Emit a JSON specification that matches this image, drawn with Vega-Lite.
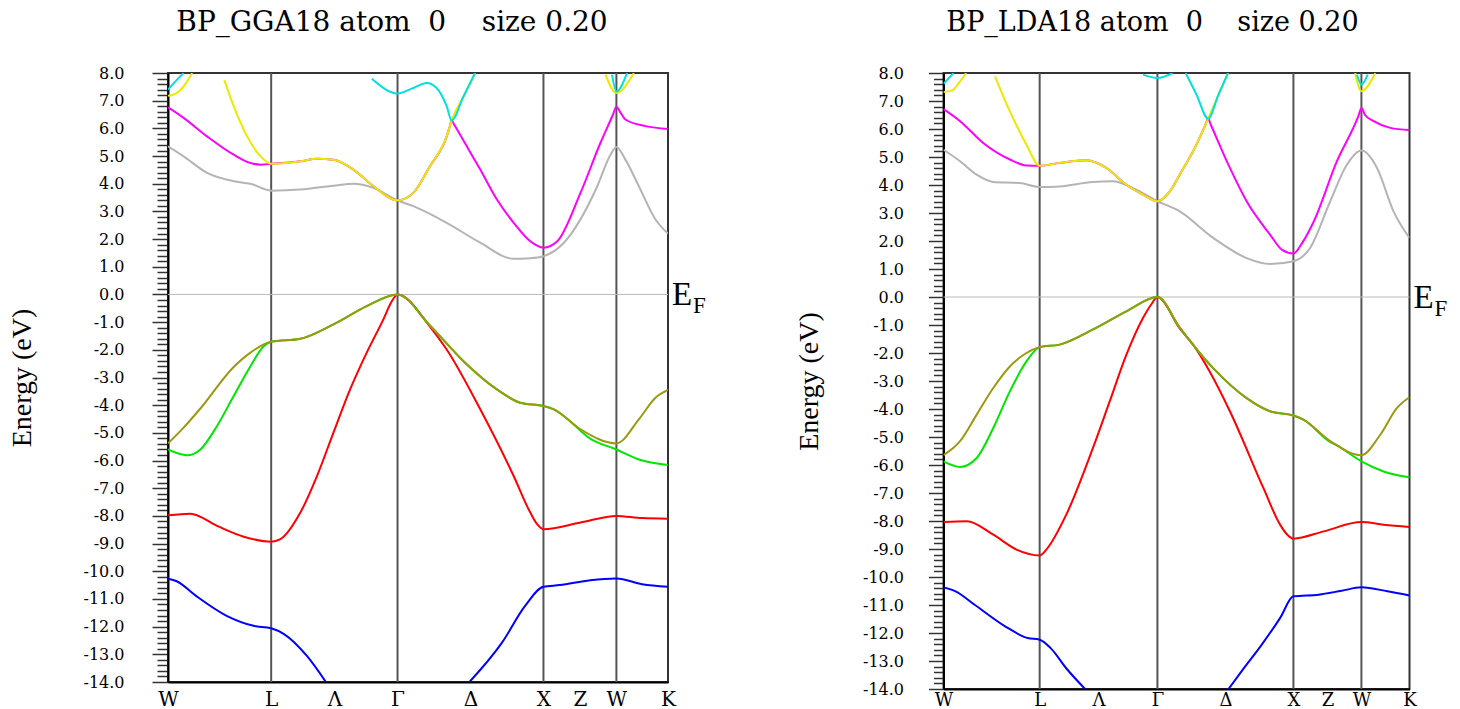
{
  "$schema": "https://vega.github.io/schema/vega-lite/v6.json",
  "autosize": {"type": "pad"},
  "padding": {"left": 7, "top": 8, "right": 5, "bottom": 0},
  "background": "white",
  "config": {
    "view": {"stroke": "#333", "strokeWidth": 2},
    "font": "DejaVu Serif"
  },
  "datasets": {
    "gga": [
      {"b":"1","k":0,"e":-10.27},{"b":"1","k":0.06,"e":-10.36},{"b":"1","k":0.192,"e":-10.89},{"b":"1","k":0.402,"e":-11.61},{"b":"1","k":0.586,"e":-11.97},{"b":"1","k":0.7071,"e":-12.06},{"b":"1","k":0.795,"e":-12.27},{"b":"1","k":0.952,"e":-13.06},{"b":"1","k":1.082,"e":-14.0},{"b":"1","k":1.5731,"e":null},{"b":"1","k":2.066,"e":-14.0},{"b":"1","k":2.289,"e":-12.58},{"b":"1","k":2.446,"e":-11.26},{"b":"1","k":2.5731,"e":-10.56},{"b":"1","k":2.684,"e":-10.5},{"b":"1","k":2.894,"e":-10.32},{"b":"1","k":3.0731,"e":-10.26},{"b":"1","k":3.249,"e":-10.47},{"b":"1","k":3.4267,"e":-10.56},
      {"b":"2","k":0,"e":-7.98},{"b":"2","k":0.153,"e":-7.92},{"b":"2","k":0.336,"e":-8.36},{"b":"2","k":0.519,"e":-8.75},{"b":"2","k":0.7071,"e":-8.93},{"b":"2","k":0.77,"e":-8.84},{"b":"2","k":0.907,"e":-7.88},{"b":"2","k":1.021,"e":-6.56},{"b":"2","k":1.134,"e":-4.99},{"b":"2","k":1.248,"e":-3.43},{"b":"2","k":1.362,"e":-2.1},{"b":"2","k":1.476,"e":-0.9},{"b":"2","k":1.53,"e":-0.28},{"b":"2","k":1.5731,"e":0},{"b":"2","k":1.795,"e":-1.16},{"b":"2","k":1.91,"e":-1.99},{"b":"2","k":2.14,"e":-4.15},{"b":"2","k":2.369,"e":-6.56},{"b":"2","k":2.483,"e":-7.88},{"b":"2","k":2.53,"e":-8.3},{"b":"2","k":2.5731,"e":-8.48},{"b":"2","k":2.827,"e":-8.24},{"b":"2","k":3.0731,"e":-8.0},{"b":"2","k":3.25,"e":-8.08},{"b":"2","k":3.4267,"e":-8.1},
      {"b":"3","k":0,"e":-5.6},{"b":"3","k":0.13,"e":-5.81},{"b":"3","k":0.222,"e":-5.6},{"b":"3","k":0.336,"e":-4.75},{"b":"3","k":0.45,"e":-3.67},{"b":"3","k":0.565,"e":-2.59},{"b":"3","k":0.656,"e":-1.87},{"b":"3","k":0.7071,"e":-1.71},{"b":"3","k":0.907,"e":-1.6},{"b":"3","k":1.134,"e":-1.08},{"b":"3","k":1.362,"e":-0.42},{"b":"3","k":1.5731,"e":0},{"b":"3","k":1.795,"e":-1.12},{"b":"3","k":2.025,"e":-2.41},{"b":"3","k":2.254,"e":-3.43},{"b":"3","k":2.414,"e":-3.91},{"b":"3","k":2.5731,"e":-4.03},{"b":"3","k":2.644,"e":-4.15},{"b":"3","k":2.827,"e":-4.92},{"b":"3","k":2.87,"e":-5.12},{"b":"3","k":3.0731,"e":-5.6},{"b":"3","k":3.227,"e":-5.96},{"b":"3","k":3.4267,"e":-6.16},
      {"b":"4","k":0,"e":-5.38},{"b":"4","k":0.107,"e":-4.81},{"b":"4","k":0.222,"e":-4.12},{"b":"4","k":0.45,"e":-2.62},{"b":"4","k":0.565,"e":-2.1},{"b":"4","k":0.7071,"e":-1.71},{"b":"4","k":0.907,"e":-1.6},{"b":"4","k":1.134,"e":-1.08},{"b":"4","k":1.362,"e":-0.42},{"b":"4","k":1.5731,"e":0},{"b":"4","k":1.795,"e":-1.12},{"b":"4","k":2.025,"e":-2.41},{"b":"4","k":2.254,"e":-3.43},{"b":"4","k":2.414,"e":-3.91},{"b":"4","k":2.5731,"e":-4.03},{"b":"4","k":2.644,"e":-4.15},{"b":"4","k":2.827,"e":-4.87},{"b":"4","k":3.0731,"e":-5.38},{"b":"4","k":3.227,"e":-4.51},{"b":"4","k":3.341,"e":-3.73},{"b":"4","k":3.4267,"e":-3.45},
      {"b":"5","k":0,"e":5.35},{"b":"5","k":0.107,"e":4.99},{"b":"5","k":0.268,"e":4.39},{"b":"5","k":0.45,"e":4.09},{"b":"5","k":0.565,"e":4.0},{"b":"5","k":0.7071,"e":3.75},{"b":"5","k":0.907,"e":3.79},{"b":"5","k":1.134,"e":3.93},{"b":"5","k":1.271,"e":4.0},{"b":"5","k":1.408,"e":3.85},{"b":"5","k":1.5731,"e":3.4},{"b":"5","k":1.681,"e":3.19},{"b":"5","k":1.91,"e":2.59},{"b":"5","k":2.14,"e":1.87},{"b":"5","k":2.369,"e":1.29},{"b":"5","k":2.483,"e":1.31},{"b":"5","k":2.5731,"e":1.38},{"b":"5","k":2.713,"e":1.87},{"b":"5","k":2.942,"e":3.91},{"b":"5","k":3.03,"e":5.02},{"b":"5","k":3.0731,"e":5.33},{"b":"5","k":3.135,"e":4.87},{"b":"5","k":3.227,"e":3.91},{"b":"5","k":3.341,"e":2.71},{"b":"5","k":3.4267,"e":2.2},
      {"b":"6","k":0,"e":6.76},{"b":"6","k":0.107,"e":6.38},{"b":"6","k":0.268,"e":5.71},{"b":"6","k":0.45,"e":5.05},{"b":"6","k":0.565,"e":4.75},{"b":"6","k":0.634,"e":4.69},{"b":"6","k":0.7071,"e":4.72},{"b":"6","k":0.907,"e":4.81},{"b":"6","k":1.021,"e":4.9},{"b":"6","k":1.134,"e":4.87},{"b":"6","k":1.271,"e":4.51},{"b":"6","k":1.408,"e":3.91},{"b":"6","k":1.5731,"e":3.4},{"b":"6","k":1.681,"e":3.67},{"b":"6","k":1.795,"e":4.63},{"b":"6","k":1.91,"e":5.71},{"b":"6","k":1.93,"e":6.05},{"b":"6","k":1.944,"e":6.29},{"b":"6","k":1.96,"e":6.15},{"b":"6","k":2.048,"e":5.35},{"b":"6","k":2.14,"e":4.51},{"b":"6","k":2.254,"e":3.43},{"b":"6","k":2.369,"e":2.59},{"b":"6","k":2.483,"e":1.92},{"b":"6","k":2.5731,"e":1.69},{"b":"6","k":2.668,"e":1.92},{"b":"6","k":2.827,"e":3.67},{"b":"6","k":2.964,"e":5.48},{"b":"6","k":3.05,"e":6.5},{"b":"6","k":3.0731,"e":6.78},{"b":"6","k":3.1,"e":6.58},{"b":"6","k":3.135,"e":6.32},{"b":"6","k":3.273,"e":6.08},{"b":"6","k":3.4267,"e":5.98},
      {"b":"7","k":0,"e":7.18},{"b":"7","k":0.038,"e":7.22},{"b":"7","k":0.107,"e":7.52},{"b":"7","k":0.165,"e":8.0},{"b":"7","k":0.25,"e":null},{"b":"7","k":0.386,"e":7.74},{"b":"7","k":0.45,"e":6.8},{"b":"7","k":0.542,"e":5.71},{"b":"7","k":0.634,"e":4.99},{"b":"7","k":0.7071,"e":4.72},{"b":"7","k":0.907,"e":4.81},{"b":"7","k":1.021,"e":4.9},{"b":"7","k":1.134,"e":4.87},{"b":"7","k":1.271,"e":4.51},{"b":"7","k":1.408,"e":3.91},{"b":"7","k":1.5731,"e":3.4},{"b":"7","k":1.681,"e":3.67},{"b":"7","k":1.795,"e":4.63},{"b":"7","k":1.91,"e":5.71},{"b":"7","k":1.944,"e":6.29},{"b":"7","k":2.025,"e":7.15},{"b":"7","k":2.105,"e":8.0},{"b":"7","k":2.5,"e":null},{"b":"7","k":2.998,"e":7.94},{"b":"7","k":3.0731,"e":7.28},{"b":"7","k":3.192,"e":8.0},{"b":"7","k":3.3,"e":null},
      {"b":"8","k":0,"e":7.4},{"b":"8","k":0.062,"e":7.76},{"b":"8","k":0.107,"e":8.0},{"b":"8","k":0.3,"e":null},{"b":"8","k":1.397,"e":7.79},{"b":"8","k":1.5731,"e":7.26},{"b":"8","k":1.681,"e":7.46},{"b":"8","k":1.773,"e":7.64},{"b":"8","k":1.841,"e":7.46},{"b":"8","k":1.91,"e":6.8},{"b":"8","k":1.944,"e":6.29},{"b":"8","k":2.025,"e":7.15},{"b":"8","k":2.105,"e":8.0},{"b":"8","k":2.5,"e":null},{"b":"8","k":3.043,"e":7.94},{"b":"8","k":3.0731,"e":7.33},{"b":"8","k":3.146,"e":8.0},{"b":"8","k":3.3,"e":null}
    ],
    "lda": [
      {"b":"1","k":0,"e":-10.37},{"b":"1","k":0.089,"e":-10.51},{"b":"1","k":0.229,"e":-10.99},{"b":"1","k":0.453,"e":-11.76},{"b":"1","k":0.619,"e":-12.18},{"b":"1","k":0.7071,"e":-12.24},{"b":"1","k":0.788,"e":-12.54},{"b":"1","k":0.901,"e":-13.25},{"b":"1","k":1.041,"e":-14.0},{"b":"1","k":1.5731,"e":null},{"b":"1","k":2.096,"e":-14.0},{"b":"1","k":2.194,"e":-13.35},{"b":"1","k":2.335,"e":-12.45},{"b":"1","k":2.477,"e":-11.45},{"b":"1","k":2.5731,"e":-10.69},{"b":"1","k":2.759,"e":-10.63},{"b":"1","k":2.928,"e":-10.49},{"b":"1","k":3.0731,"e":-10.37},{"b":"1","k":3.264,"e":-10.51},{"b":"1","k":3.4267,"e":-10.66},
      {"b":"2","k":0,"e":-8.04},{"b":"2","k":0.171,"e":-8.01},{"b":"2","k":0.366,"e":-8.49},{"b":"2","k":0.537,"e":-9.02},{"b":"2","k":0.7071,"e":-9.23},{"b":"2","k":0.756,"e":-9.02},{"b":"2","k":0.903,"e":-7.77},{"b":"2","k":1.099,"e":-5.39},{"b":"2","k":1.222,"e":-3.73},{"b":"2","k":1.345,"e":-2.06},{"b":"2","k":1.467,"e":-0.75},{"b":"2","k":1.53,"e":-0.25},{"b":"2","k":1.5731,"e":0},{"b":"2","k":1.737,"e":-1.12},{"b":"2","k":1.85,"e":-1.8},{"b":"2","k":1.95,"e":-2.6},{"b":"2","k":2.106,"e":-4.08},{"b":"2","k":2.352,"e":-6.82},{"b":"2","k":2.475,"e":-8.13},{"b":"2","k":2.53,"e":-8.5},{"b":"2","k":2.5731,"e":-8.63},{"b":"2","k":2.795,"e":-8.37},{"b":"2","k":3.0731,"e":-8.04},{"b":"2","k":3.236,"e":-8.13},{"b":"2","k":3.4267,"e":-8.21},
      {"b":"3","k":0,"e":-5.87},{"b":"3","k":0.122,"e":-6.07},{"b":"3","k":0.244,"e":-5.75},{"b":"3","k":0.366,"e":-4.68},{"b":"3","k":0.488,"e":-3.37},{"b":"3","k":0.61,"e":-2.3},{"b":"3","k":0.7071,"e":-1.79},{"b":"3","k":0.854,"e":-1.7},{"b":"3","k":1.099,"e":-1.16},{"b":"3","k":1.345,"e":-0.51},{"b":"3","k":1.5731,"e":0},{"b":"3","k":1.737,"e":-1.09},{"b":"3","k":1.983,"e":-2.54},{"b":"3","k":2.229,"e":-3.61},{"b":"3","k":2.401,"e":-4.08},{"b":"3","k":2.5731,"e":-4.23},{"b":"3","k":2.647,"e":-4.38},{"b":"3","k":2.844,"e":-5.18},{"b":"3","k":2.893,"e":-5.3},{"b":"3","k":3.0731,"e":-5.87},{"b":"3","k":3.236,"e":-6.23},{"b":"3","k":3.4267,"e":-6.44},
      {"b":"4","k":0,"e":-5.65},{"b":"4","k":0.122,"e":-5.15},{"b":"4","k":0.244,"e":-4.2},{"b":"4","k":0.366,"e":-3.25},{"b":"4","k":0.488,"e":-2.48},{"b":"4","k":0.61,"e":-2.0},{"b":"4","k":0.7071,"e":-1.79},{"b":"4","k":0.854,"e":-1.7},{"b":"4","k":1.099,"e":-1.16},{"b":"4","k":1.345,"e":-0.51},{"b":"4","k":1.5731,"e":0},{"b":"4","k":1.737,"e":-1.09},{"b":"4","k":1.983,"e":-2.54},{"b":"4","k":2.229,"e":-3.61},{"b":"4","k":2.401,"e":-4.08},{"b":"4","k":2.5731,"e":-4.23},{"b":"4","k":2.647,"e":-4.38},{"b":"4","k":2.844,"e":-5.15},{"b":"4","k":3.0731,"e":-5.65},{"b":"4","k":3.213,"e":-4.91},{"b":"4","k":3.335,"e":-3.96},{"b":"4","k":3.4267,"e":-3.58},
      {"b":"5","k":0,"e":5.26},{"b":"5","k":0.122,"e":4.85},{"b":"5","k":0.244,"e":4.37},{"b":"5","k":0.366,"e":4.11},{"b":"5","k":0.561,"e":4.07},{"b":"5","k":0.7071,"e":3.93},{"b":"5","k":0.854,"e":3.95},{"b":"5","k":1.099,"e":4.11},{"b":"5","k":1.246,"e":4.13},{"b":"5","k":1.393,"e":3.89},{"b":"5","k":1.5731,"e":3.42},{"b":"5","k":1.737,"e":3.06},{"b":"5","k":1.983,"e":2.11},{"b":"5","k":2.229,"e":1.39},{"b":"5","k":2.401,"e":1.18},{"b":"5","k":2.5731,"e":1.28},{"b":"5","k":2.696,"e":1.75},{"b":"5","k":2.844,"e":3.42},{"b":"5","k":2.967,"e":4.73},{"b":"5","k":3.0731,"e":5.23},{"b":"5","k":3.188,"e":4.61},{"b":"5","k":3.309,"e":3.06},{"b":"5","k":3.4267,"e":2.11},
      {"b":"6","k":0,"e":6.71},{"b":"6","k":0.122,"e":6.28},{"b":"6","k":0.292,"e":5.5},{"b":"6","k":0.488,"e":4.91},{"b":"6","k":0.61,"e":4.7},{"b":"6","k":0.7071,"e":4.69},{"b":"6","k":0.854,"e":4.79},{"b":"6","k":1.05,"e":4.88},{"b":"6","k":1.197,"e":4.61},{"b":"6","k":1.345,"e":4.01},{"b":"6","k":1.467,"e":3.66},{"b":"6","k":1.5731,"e":3.42},{"b":"6","k":1.664,"e":3.77},{"b":"6","k":1.737,"e":4.37},{"b":"6","k":1.86,"e":5.44},{"b":"6","k":1.925,"e":6.14},{"b":"6","k":1.946,"e":6.37},{"b":"6","k":1.965,"e":6.16},{"b":"6","k":2.106,"e":4.61},{"b":"6","k":2.229,"e":3.42},{"b":"6","k":2.401,"e":2.23},{"b":"6","k":2.49,"e":1.68},{"b":"6","k":2.5731,"e":1.55},{"b":"6","k":2.64,"e":1.95},{"b":"6","k":2.721,"e":2.68},{"b":"6","k":2.893,"e":4.85},{"b":"6","k":3.05,"e":6.45},{"b":"6","k":3.0731,"e":6.75},{"b":"6","k":3.1,"e":6.5},{"b":"6","k":3.163,"e":6.28},{"b":"6","k":3.285,"e":6.04},{"b":"6","k":3.4267,"e":5.96},
      {"b":"7","k":0,"e":7.32},{"b":"7","k":0.061,"e":7.37},{"b":"7","k":0.122,"e":7.7},{"b":"7","k":0.166,"e":8.0},{"b":"7","k":0.27,"e":null},{"b":"7","k":0.378,"e":7.88},{"b":"7","k":0.488,"e":6.63},{"b":"7","k":0.61,"e":5.44},{"b":"7","k":0.7071,"e":4.69},{"b":"7","k":0.854,"e":4.79},{"b":"7","k":1.05,"e":4.88},{"b":"7","k":1.197,"e":4.61},{"b":"7","k":1.345,"e":4.01},{"b":"7","k":1.467,"e":3.66},{"b":"7","k":1.5731,"e":3.42},{"b":"7","k":1.664,"e":3.77},{"b":"7","k":1.737,"e":4.37},{"b":"7","k":1.86,"e":5.44},{"b":"7","k":1.925,"e":6.14},{"b":"7","k":1.946,"e":6.37},{"b":"7","k":2.02,"e":7.2},{"b":"7","k":2.092,"e":8.0},{"b":"7","k":2.5,"e":null},{"b":"7","k":3.027,"e":8.0},{"b":"7","k":3.0731,"e":7.35},{"b":"7","k":3.175,"e":8.0},{"b":"7","k":3.3,"e":null},
      {"b":"8","k":0,"e":7.61},{"b":"8","k":0.073,"e":8.0},{"b":"8","k":0.4,"e":null},{"b":"8","k":1.467,"e":7.94},{"b":"8","k":1.5731,"e":7.82},{"b":"8","k":1.685,"e":8.0},{"b":"8","k":1.73,"e":null},{"b":"8","k":1.781,"e":8.0},{"b":"8","k":1.86,"e":7.23},{"b":"8","k":1.946,"e":6.37},{"b":"8","k":2.02,"e":7.2},{"b":"8","k":2.092,"e":8.0},{"b":"8","k":2.5,"e":null},{"b":"8","k":3.041,"e":7.94},{"b":"8","k":3.0731,"e":7.59},{"b":"8","k":3.119,"e":7.94},{"b":"8","k":3.3,"e":null}
    ],
    "symlines": [{"k":0.7071},{"k":1.5731},{"k":2.5731},{"k":3.0731}],
    "ef": [{"k":3.4267,"e":0}]
  },
  "bounds": "flush",
  "spacing": 275.5,
  "hconcat": [
    {
      "width": 500,
      "height": 609,
      "title": {"text": "BP_GGA18 atom\u00a0 0\u00a0\u00a0\u00a0 size 0.20", "font": "DejaVu Serif", "fontSize": 28, "fontWeight": "normal", "color": "#000", "anchor": "middle", "dx": -26, "offset": 28},
      "layer": [
        {
          "data": {"name": "symlines"},
          "mark": {"type": "rule", "color": "#555", "strokeWidth": 2},
          "encoding": {"x": {"field": "k", "type": "quantitative", "scale": {"domain": [0, 3.4267], "nice": false, "zero": false},
              "axis": {"title": null, "values": [0, 0.7071, 1.1401, 1.5731, 2.0731, 2.5731, 2.8231, 3.0731, 3.4267],
                "labelExpr": "datum.value < 0.1 ? 'W' : datum.value < 0.8 ? 'L' : datum.value < 1.2 ? 'Λ' : datum.value < 1.6 ? 'Γ' : datum.value < 2.1 ? 'Δ' : datum.value < 2.6 ? 'X' : datum.value < 2.9 ? 'Z' : datum.value < 3.2 ? 'W' : 'K'",
                "ticks": false, "grid": false, "labelFont": "DejaVu Serif", "labelFontSize": 20, "labelColor": "#000", "labelPadding": 7, "labelFlush": false, "labelOverlap": false, "labelBound": false, "domainColor": "#000", "domainWidth": 2}}}
        },
        {
          "data": {"name": "ef"},
          "mark": {"type": "rule", "color": "#bbbbbb", "strokeWidth": 1},
          "encoding": {"y": {"field": "e", "type": "quantitative", "scale": {"domain": [-14, 8], "nice": false, "zero": false},
              "axis": {"title": "Energy (eV)", "titleFont": "Liberation Serif", "titleFontSize": 28, "titleFontWeight": "normal", "titleColor": "#000", "titlePadding": 46,
                "tickCount": 110,
                "labelExpr": "abs(datum.value - round(datum.value)) < 0.01 ? (datum.value < -0.01 ? '-' : '') + format(abs(datum.value), '.1f') : ''",
                "labelFont": "DejaVu Serif", "labelFontSize": 16, "labelColor": "#000", "labelPadding": 28,
                "tickSize": {"condition": {"test": "abs(datum.value - round(datum.value)) < 0.01", "value": 16}, "value": 11},
                "tickColor": "#333", "tickWidth": 1.5, "domainColor": "#000", "domainWidth": 2, "grid": false, "labelOverlap": false, "labelBound": false, "labelFlush": false}}}
        },
        {
          "data": {"name": "gga"},
          "mark": {"type": "line", "interpolate": "monotone", "strokeWidth": 2, "clip": true},
          "encoding": {
            "x": {"field": "k", "type": "quantitative", "title": null},
            "y": {"field": "e", "type": "quantitative", "title": "Energy (eV)"},
            "color": {"field": "b", "type": "nominal", "legend": null, "scale": {"domain": ["1","2","3","4","5","6","7","8"], "range": ["#0000ff","#ff0000","#00e600","#9a9a10","#b4b4b4","#ff00ff","#eaea00","#00e0e0"]}},
            "opacity": {"field": "b", "type": "nominal", "legend": null, "scale": {"domain": ["1","2","3","4","5","6","7","8"], "range": [1,1,1,1,1,1,0.7,0.7]}}
          }
        },
        {
          "data": {"name": "ef"},
          "mark": {"type": "text", "text": "E", "font": "Liberation Serif", "fontSize": 33, "align": "left", "baseline": "alphabetic", "dx": 4, "dy": 11, "color": "#000", "clip": false},
          "encoding": {"x": {"field": "k", "type": "quantitative", "title": null}, "y": {"field": "e", "type": "quantitative", "title": "Energy (eV)"}}
        },
        {
          "data": {"name": "ef"},
          "mark": {"type": "text", "text": "F", "font": "Liberation Serif", "fontSize": 23, "align": "left", "baseline": "alphabetic", "dx": 25, "dy": 19, "color": "#000", "clip": false},
          "encoding": {"x": {"field": "k", "type": "quantitative", "title": null}, "y": {"field": "e", "type": "quantitative", "title": "Energy (eV)"}}
        }
      ]
    },
    {
      "width": 466,
      "height": 616,
      "title": {"text": "BP_LDA18 atom\u00a0 0\u00a0\u00a0\u00a0 size 0.20", "font": "DejaVu Serif", "fontSize": 27, "fontWeight": "normal", "color": "#000", "anchor": "middle", "dx": -24, "offset": 28},
      "layer": [
        {
          "data": {"name": "symlines"},
          "mark": {"type": "rule", "color": "#555", "strokeWidth": 2},
          "encoding": {"x": {"field": "k", "type": "quantitative", "scale": {"domain": [0, 3.4267], "nice": false, "zero": false},
              "axis": {"title": null, "values": [0, 0.7071, 1.1401, 1.5731, 2.0731, 2.5731, 2.8231, 3.0731, 3.4267],
                "labelExpr": "datum.value < 0.1 ? 'W' : datum.value < 0.8 ? 'L' : datum.value < 1.2 ? 'Λ' : datum.value < 1.6 ? 'Γ' : datum.value < 2.1 ? 'Δ' : datum.value < 2.6 ? 'X' : datum.value < 2.9 ? 'Z' : datum.value < 3.2 ? 'W' : 'K'",
                "ticks": false, "grid": false, "labelFont": "DejaVu Serif", "labelFontSize": 18, "labelColor": "#000", "labelPadding": 2, "labelFlush": false, "labelOverlap": false, "labelBound": false, "domainColor": "#000", "domainWidth": 2}}}
        },
        {
          "data": {"name": "ef"},
          "mark": {"type": "rule", "color": "#bbbbbb", "strokeWidth": 1},
          "encoding": {"y": {"field": "e", "type": "quantitative", "scale": {"domain": [-14, 8], "nice": false, "zero": false},
              "axis": {"title": "Energy (eV)", "titleFont": "Liberation Serif", "titleFontSize": 28, "titleFontWeight": "normal", "titleColor": "#000", "titlePadding": 39,
                "tickCount": 110,
                "labelExpr": "abs(datum.value - round(datum.value)) < 0.01 ? (datum.value < -0.01 ? '-' : '') + format(abs(datum.value), '.1f') : ''",
                "labelFont": "DejaVu Serif", "labelFontSize": 16, "labelColor": "#000", "labelPadding": 25,
                "tickSize": {"condition": {"test": "abs(datum.value - round(datum.value)) < 0.01", "value": 15}, "value": 10},
                "tickColor": "#333", "tickWidth": 1.5, "domainColor": "#000", "domainWidth": 2, "grid": false, "labelOverlap": false, "labelBound": false, "labelFlush": false}}}
        },
        {
          "data": {"name": "lda"},
          "mark": {"type": "line", "interpolate": "monotone", "strokeWidth": 2, "clip": true},
          "encoding": {
            "x": {"field": "k", "type": "quantitative", "title": null},
            "y": {"field": "e", "type": "quantitative", "title": "Energy (eV)"},
            "color": {"field": "b", "type": "nominal", "legend": null, "scale": {"domain": ["1","2","3","4","5","6","7","8"], "range": ["#0000ff","#ff0000","#00e600","#9a9a10","#b4b4b4","#ff00ff","#eaea00","#00e0e0"]}},
            "opacity": {"field": "b", "type": "nominal", "legend": null, "scale": {"domain": ["1","2","3","4","5","6","7","8"], "range": [1,1,1,1,1,1,0.7,0.7]}}
          }
        },
        {
          "data": {"name": "ef"},
          "mark": {"type": "text", "text": "E", "font": "Liberation Serif", "fontSize": 33, "align": "left", "baseline": "alphabetic", "dx": 4, "dy": 11, "color": "#000", "clip": false},
          "encoding": {"x": {"field": "k", "type": "quantitative", "title": null}, "y": {"field": "e", "type": "quantitative", "title": "Energy (eV)"}}
        },
        {
          "data": {"name": "ef"},
          "mark": {"type": "text", "text": "F", "font": "Liberation Serif", "fontSize": 23, "align": "left", "baseline": "alphabetic", "dx": 25, "dy": 19, "color": "#000", "clip": false},
          "encoding": {"x": {"field": "k", "type": "quantitative", "title": null}, "y": {"field": "e", "type": "quantitative", "title": "Energy (eV)"}}
        }
      ]
    }
  ]
}
